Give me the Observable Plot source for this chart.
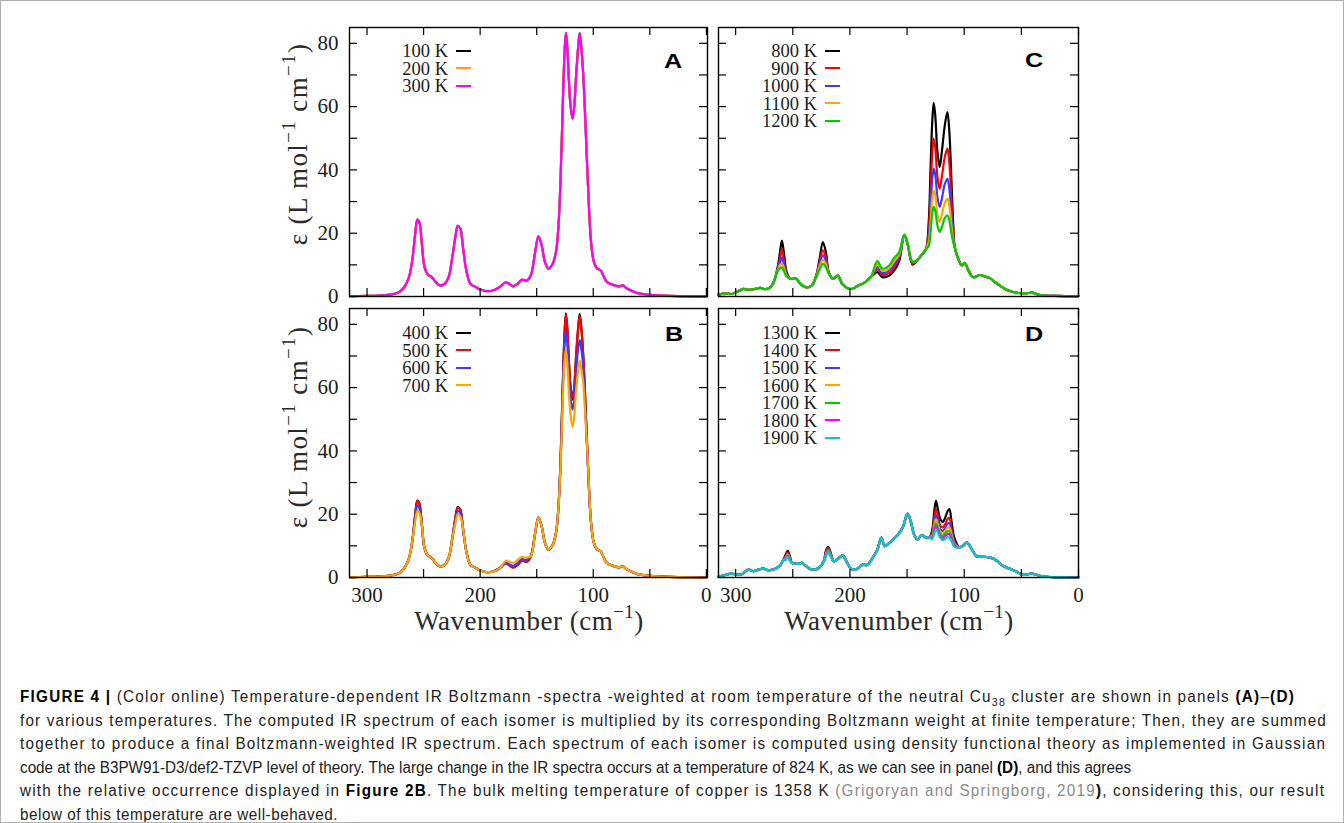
<!DOCTYPE html>
<html><head><meta charset="utf-8">
<script src="https://cdn.jsdelivr.net/npm/d3@7"></script>
<script src="https://cdn.jsdelivr.net/npm/@observablehq/plot@0.6"></script>
<style>
html,body{margin:0;padding:0;background:#fff;}
#page{position:relative;width:1344px;height:823px;overflow:hidden;background:#fff;}
#border{position:absolute;left:0;top:0;width:1344px;height:823px;box-sizing:border-box;border:1px solid #b0b0b0;pointer-events:none;}
.abs{position:absolute;white-space:nowrap;}
.serif{font-family:"Liberation Serif","Times New Roman",serif;color:#1c1c1c;}
.title{font-size:27px;line-height:27px;color:#2a2a2a;}
.title sup{font-size:70%;vertical-align:0.6em;line-height:0;}
.ytitle{letter-spacing:1.4px;}
.xtitle{letter-spacing:0.5px;}
.leg{font-size:18.5px;line-height:17px;height:17px;text-align:right;width:120px;}
.letter{font-family:"Liberation Sans",Arial,sans-serif;font-weight:bold;font-size:21px;line-height:21px;color:#000;}
#caption{position:absolute;left:20px;top:685px;font-family:"Liberation Sans",Arial,sans-serif;color:#222;font-size:16px;}
#caption div{white-space:nowrap;line-height:23.6px;height:23.6px;}
#caption span.ln{display:inline-block;transform-origin:0 50%;}
#caption b{color:#000;}
.cite{color:#8a8a8a;}
</style></head>
<body><div id="page"><div id="caption">
<div><span class="ln"><b>FIGURE 4 |</b> (Color online) Temperature-dependent IR Boltzmann -spectra -weighted at room temperature of the neutral Cu<sub style="font-size:70%">38</sub> cluster are shown in panels <b>(A)</b>–<b>(D)</b></span></div>
<div><span class="ln">for various temperatures. The computed IR spectrum of each isomer is multiplied by its corresponding Boltzmann weight at finite temperature; Then, they are summed</span></div>
<div><span class="ln">together to produce a final Boltzmann-weighted IR spectrum. Each spectrum of each isomer is computed using density functional theory as implemented in Gaussian</span></div>
<div><span class="ln">code at the B3PW91-D3/def2-TZVP level of theory. The large change in the IR spectra occurs at a temperature of 824 K, as we can see in panel <b>(D)</b>, and this agrees</span></div>
<div><span class="ln">with the relative occurrence displayed in <b>Figure 2B</b>. The bulk melting temperature of copper is 1358 K <span class="cite">(Grigoryan and Springborg, 2019</span><b>)</b>, considering this, our result</span></div>
<div><span class="ln">below of this temperature are well-behaved.</span></div>
</div><div id="border"></div></div>
<script>
// ---------------- DATA ----------------
const tempsA = ["100 K", "200 K", "300 K"];
const colorsA = ["#000000", "#ffa500", "#ff00ff"];
const tempsB = ["400 K", "500 K", "600 K", "700 K"];
const colorsB = ["#000000", "#ff0000", "#3b3bff", "#ffa500"];
const tempsC = ["800 K", "900 K", "1000 K", "1100 K", "1200 K"];
const colorsC = ["#000000", "#ff0000", "#3b3bff", "#ffa500", "#00cc00"];
const tempsD = ["1300 K", "1400 K", "1500 K", "1600 K", "1700 K", "1800 K", "1900 K"];
const colorsD = ["#000000", "#ff0000", "#3b3bff", "#ffa500", "#00cc00", "#ff00ff", "#00cccc"];

const yTickVals = [0, 10, 20, 30, 40, 50, 60, 70, 80];
const yLabelVals = [0, 20, 40, 60, 80];
const xTickVals = [300, 250, 200, 150, 100, 50, 0];
const xLabelVals = [300, 200, 100, 0];

// Panels A and B: wavenumber grid and low-temperature spectrum (A: all three overlap)
const waveAB = [315,300,290,280,272,267,263,260,257.5,255.5,253.8,251.5,249.2,246.2,243.2,240.3,235.8,231.4,227.9,224.6,
  221.9,219.8,217.5,215.2,212.2,208.6,204.8,200.4,194.4,188.5,182.6,177.3,174.3,170.8,166.9,163.1,158.9,155.1,151.6,148.5,
  145.6,142.7,139.7,136.2,133,131,129,127,125.5,124.2,123,121.5,120,118.3,116.8,115.2,113.3,112,110.6,109,
  107.5,105,102,99.5,96.5,93.5,91,88.5,85,81,77,74,70.5,66,60,52,40,25,0];
const epsAB = [0.1,0.2,0.3,0.6,1.3,3,6,11.5,19.5,24.3,23.5,16.6,9.3,6.9,6.3,5,3.5,4,6.1,12.4,
  18.8,22.3,21.4,15.6,8.2,4,3.2,2.3,1.7,1.9,3,4.5,4,3.2,4,5.3,5,6.8,13.5,19,
  16.2,10.9,8.8,10.1,14,21,36,60,76,83.3,79,68,60,56.2,60,69.5,79,83.2,79,71,
  60,38,17.5,11,8.8,8.3,6.5,4.8,4,3.5,3.2,3.5,2.6,1.8,1,0.6,0.3,0.1,0];

// Panel B: where the four temperatures differ
const waveBvar = [257.5,255.5,253.8,221.9,219.8,217.5,177.3,174.3,170.8,166.9,163.1,158.9,129,127,125.5,124.2,123,121.5,120,118.3,116.8,115.2,113.3,112,110.6,109,107.5];
const epsB400 = [19.5,24.3,23.5,18.8,22.3,21.4,4.5,4,3.2,4,5.3,5,36,60,76,83.5,79,68,60,56.2,60,69.5,79,83.3,79,71,60];
const epsB500 = [19.5,24.2,23.5,18.8,22.1,21.3,4.5,3.8,3.1,4,5.3,5.1,36,60,76,83,79,68,60,56.8,60.5,70,79,82.5,79,71,60];
const epsB600 = [18.5,22.7,22,18,21,20.3,4.8,4.2,3.7,4.6,5.8,5.6,35,58,73,77.7,74,64,56.5,53,56,64.5,72.5,75,72.5,67,57];
const epsB700 = [17.5,21,20.5,17,20,19.3,5.3,5,4.6,5.5,6.5,6.3,34,55,68,72,68,58,51,47.6,51,59,65.5,68.5,66,62,54];

// Panel C
const waveC = [315,309.3,303.5,297.6,293.2,288.8,282.9,278.5,274.1,269.7,266.8,263.1,261,259.5,257.5,255.6,252.2,247.2,243.4,238.4,
  233.7,229.6,226.5,223.7,221,218.5,214.7,210.6,206.8,202.4,198,192.7,187.7,181.8,176,171.6,165.7,161.3,156.9,152.5,
  149.6,145.2,140.8,136.4,133.4,131,129.5,128,126.7,125.3,123.5,121.5,119.5,117,114.7,113,111.2,109.5,108.3,105.3,
  102,99.5,96,92.1,86.3,81,77.5,73.1,68,64.3,58,52.5,46,40.8,36,32,20,0];
const epsC = [0.6,1.0,0.8,1.7,2.4,2.1,2.4,2.7,2.3,2.9,4.5,8.2,9,9.2,7.8,6.4,5.6,5.6,4,2.9,
  3.4,6.1,8.5,10.3,9.2,7.2,5.6,6.6,4,2.7,2.4,3.5,4.3,6.1,11.2,8.8,9.8,12.2,14,19.5,
  16.7,11,11.6,13.5,15,16,20,26,28.3,27,22.5,20.4,22,24.8,25.6,24,20,17,15.6,12,
  9.8,10.6,8,6.1,6.8,6.2,5.8,4.5,3.3,2.4,1.5,1.1,1.0,1.2,0.7,0.4,0.2,0.1];
const waveCvar = [263.1,261,259.5,257.5,255.6,229.6,226.5,223.7,221,218.5,176,171.6,165.7,161.3,156.9,145.2,131,129.5,128,126.7,125.3,123.5,121.5,119.5,117,114.7,113,111.2,109.5];
const epsC800 = [9.5,14.5,17.7,13,8,6.5,12,17.2,14,7.6,7.7,6.1,6.6,8.2,11.2,10.1,24,40,55,61.2,57,46,40.9,46,54,58.3,52,36.7,22];
const epsC900 = [9,12.5,14.9,11,7.4,6.4,11,14.6,12.5,7.5,8.5,6.8,7.4,9.2,11.9,10.4,21,33,45,49.9,47,38,34.1,38,44,46.7,42,31,20];
const epsC1000 = [8.7,11,12.4,9.8,7,6.3,10.3,13,11.3,7.4,9.3,7.4,8.2,10.2,12.6,10.7,19,27,37,40.4,38.5,31.5,28.3,31,35.5,37.2,34,26,18.5];
const epsC1100 = [8.4,10,10.3,8.8,6.7,6.2,9.5,11.6,10.2,7.3,10.2,8.1,9,11.2,13.3,11,17.5,23,31,33.5,32,26,23.5,26,29.5,30.9,28.5,22.5,17.5];
const epsC1200 = [8.2,9,9.2,7.8,6.4,6.1,8.5,10.3,9.2,7.2,11.2,8.8,9.8,12.2,14,11,16,20,26,28.3,27,22.5,20.4,22,24.8,25.6,24,20,17];

// Panel D
const waveD = [315,309.3,303.5,299.1,294.7,288.8,284.4,280,275.6,271.2,265.4,261,258.1,256.5,254.5,252.6,250.7,246.3,241.9,238.4,
  233.1,227.3,222.9,221,219.1,217,214.1,210.3,206.2,202.4,198,193.6,189.2,184.8,180.5,176,172.5,169.6,165.7,161.3,
  156.9,153.4,149.6,146.7,143.7,140.8,137.3,133.4,130.5,128,126.2,124.7,123,121,118.8,116.5,114.5,113,111,108.6,
  104.2,100.5,97.7,92.5,89.6,86.7,81.8,77,74.5,70.5,67.2,62.5,58.4,53,49.6,45,40.8,36,32,20,0];
const epsD = [0.2,0.8,1.2,0.9,1.0,2.5,2.0,2.5,2.8,2.3,2.8,3.9,5.7,5.5,6.5,5.3,4.6,4.3,4.6,3.6,
  2.5,3.0,5.1,6.7,8.1,6.7,5.1,6,7,4.6,2.5,2.8,4.0,4.0,6,8.8,12.6,9.9,10.9,12.3,
  14.1,16.2,20.2,17.6,13.4,12,13.4,12.6,12.6,12.2,14,15.2,14.2,12.5,11.8,12.3,12.8,12.6,11.4,9.7,
  9.5,10.2,11,8.4,6.8,6.6,6.5,6.3,6.0,5,3.9,3.1,2.5,1.6,0.9,1.0,1.2,0.8,0.4,0.1,0];
const waveDvar = [256.5,254.5,252.6,221,219.1,217,128,126.2,124.7,123,121,118.8,116.5,114.5,113,111,108.6];
const epsD1300 = [7,8.4,6.8,8.5,9.7,8,15,21,24.2,21.5,18.5,17.6,19,21,21.6,17.5,12.5];
const epsD1400 = [6.6,7.9,6.4,8.1,9.3,7.7,14.2,19,21.5,19.5,16.5,15.8,17,18.5,18.8,15.5,11.5];
const epsD1500 = [6.3,7.5,6.1,7.7,8.9,7.4,13.6,17.5,19.7,18,15.3,14.7,15.8,17,17.1,14.5,11];
const epsD1600 = [6,7.2,5.8,7.4,8.6,7.2,13.2,16.5,18.4,16.8,14.5,13.8,14.8,15.7,15.8,13.6,10.6];
const epsD1700 = [5.8,6.9,5.6,7.1,8.4,7,12.8,15.5,17.1,15.8,13.7,13,14,14.6,14.6,12.8,10.3];
const epsD1800 = [5.6,6.7,5.4,6.9,8.2,6.8,12.5,14.8,16.2,15,13,12.4,13.2,13.7,13.7,12,10];
const epsD1900 = [5.5,6.5,5.3,6.7,8.1,6.7,12.2,14,15.2,14.2,12.5,11.8,12.3,12.8,12.6,11.4,9.7];

// ---------------- BUILD ----------------
function build(wave, base, temps, varWave, varList) {
  const rows = [];
  temps.forEach((T, k) => {
    wave.forEach((w, i) => {
      const j = varWave ? varWave.indexOf(w) : -1;
      rows.push({T, w, e: j >= 0 ? varList[k][j] : base[i]});
    });
  });
  return rows;
}
const dataA = build(waveAB, epsAB, tempsA, null, null);
const dataB = build(waveAB, epsAB, tempsB, waveBvar, [epsB400, epsB500, epsB600, epsB700]);
const dataC = build(waveC, epsC, tempsC, waveCvar, [epsC800, epsC900, epsC1000, epsC1100, epsC1200]);
const dataD = build(waveD, epsD, tempsD, waveDvar, [epsD1300, epsD1400, epsD1500, epsD1600, epsD1700, epsD1800, epsD1900]);

const page = document.getElementById("page");
const FH = 269;
const panels = [
  {letter: "A", data: dataA, temps: tempsA, colors: colorsA, fl: 349, ft: 27, fw: 358, xdom: [315.5, -1], showY: true, showX: false, letterPos: [673, 59.5], legTop: 51.7},
  {letter: "B", data: dataB, temps: tempsB, colors: colorsB, fl: 349, ft: 308, fw: 358, xdom: [315.5, -1], showY: true, showX: true, letterPos: [673.5, 332.5], legTop: 333.8},
  {letter: "C", data: dataC, temps: tempsC, colors: colorsC, fl: 718, ft: 27, fw: 360, xdom: [315, 0], showY: false, showX: false, letterPos: [1034, 58.5], legTop: 51.7},
  {letter: "D", data: dataD, temps: tempsD, colors: colorsD, fl: 718, ft: 308, fw: 360, xdom: [315, 0], showY: false, showX: true, letterPos: [1034, 332.5], legTop: 333.8}
];

function el(tag, cls, html, style) {
  const e = document.createElement(tag);
  if (cls) e.className = cls;
  if (html != null) e.innerHTML = html;
  Object.assign(e.style, style || {});
  page.insertBefore(e, document.getElementById("border"));
  return e;
}

for (const p of panels) {
  const mL = p.showY ? 60 : 6, mR = 12, mT = 8, mB = p.showX ? 36 : 14;
  const fw = p.fw;
  const marks = [
    Plot.line(p.data, {x: "w", y: "e", z: "T", stroke: "T", strokeWidth: 2.2, curve: "catmull-rom"}),
    Plot.tickY(yTickVals, {y: d => d, insetRight: fw - 8, stroke: "#000", strokeWidth: 1.2}),
    Plot.tickY(yTickVals, {y: d => d, insetLeft: fw - 8, stroke: "#000", strokeWidth: 1.2}),
    Plot.tickX(xTickVals, {x: d => d, insetTop: FH - 8, stroke: "#000", strokeWidth: 1.2}),
    Plot.tickX(xTickVals, {x: d => d, insetBottom: FH - 8, stroke: "#000", strokeWidth: 1.2}),
    Plot.frame({stroke: "#000", strokeWidth: 1.4})
  ];
  if (p.showY) marks.push(Plot.axisY({ticks: yLabelVals, tickSize: 0, tickPadding: 11, label: null, fontSize: 21}));
  if (p.showX) marks.push(Plot.axisX({ticks: xLabelVals, tickSize: 0, tickPadding: 10, label: null, fontSize: 21}));
  const svg = Plot.plot({
    width: mL + fw + mR, height: mT + FH + mB,
    marginLeft: mL, marginRight: mR, marginTop: mT, marginBottom: mB,
    x: {domain: p.xdom, axis: null},
    y: {domain: [0, 85], axis: null},
    color: {domain: p.temps, range: p.colors},
    style: {fontFamily: "'Liberation Serif', 'Times New Roman', serif", fontSize: "21px", color: "#1c1c1c", background: "transparent", overflow: "visible"},
    marks
  });
  svg.style.position = "absolute";
  svg.style.left = (p.fl - mL) + "px";
  svg.style.top = (p.ft - mT) + "px";
  page.insertBefore(svg, document.getElementById("border"));

  // panel letter
  el("div", "abs letter", p.letter, {left: p.letterPos[0] + "px", top: p.letterPos[1] + "px", transform: "translate(-50%,-50%) scaleX(1.2)"});
  // legend
  p.temps.forEach((T, i) => {
    const cy = p.legTop + 17.5 * i;
    el("div", "abs serif leg", T, {left: (p.fl + 99 - 120) + "px", top: (cy - 8.5) + "px"});
    el("div", "abs", "", {left: (p.fl + 107) + "px", top: (cy - 2) + "px", width: "15px", height: "2.2px", background: p.colors[i]});
  });
}

// axis titles
const yTitle = "ε (L mol<sup>−1</sup> cm<sup>−1</sup>)";
const xTitle = "Wavenumber (cm<sup>−1</sup>)";
el("div", "abs serif title ytitle", yTitle, {left: "298px", top: "144px", transform: "translate(-50%,-50%) rotate(-90deg)"});
el("div", "abs serif title ytitle", yTitle, {left: "298px", top: "427px", transform: "translate(-50%,-50%) rotate(-90deg)"});
el("div", "abs serif title xtitle", xTitle, {left: "529px", top: "621px", transform: "translate(-50%,-50%)"});
el("div", "abs serif title xtitle", xTitle, {left: "899px", top: "621px", transform: "translate(-50%,-50%)"});

// caption: condensed face (fit from the unjustified line 4); other lines justified by letter spacing
const lineTargets = [1275, 1307, 1306, 1111, 1305, 318];
const lines = Array.from(document.querySelectorAll("#caption span.ln"));
const widths = lines.map(s => s.getBoundingClientRect().width);
const k = lineTargets[3] / widths[3];
lines.forEach((s, i) => {
  const nChars = s.textContent.length;
  if (i !== 3) {
    const extra = (lineTargets[i] / k - widths[i]) / Math.max(1, nChars);
    s.style.letterSpacing = extra.toFixed(3) + "px";
  }
  s.style.transform = `scaleX(${k.toFixed(4)})`;
});
</script>
</body></html>
